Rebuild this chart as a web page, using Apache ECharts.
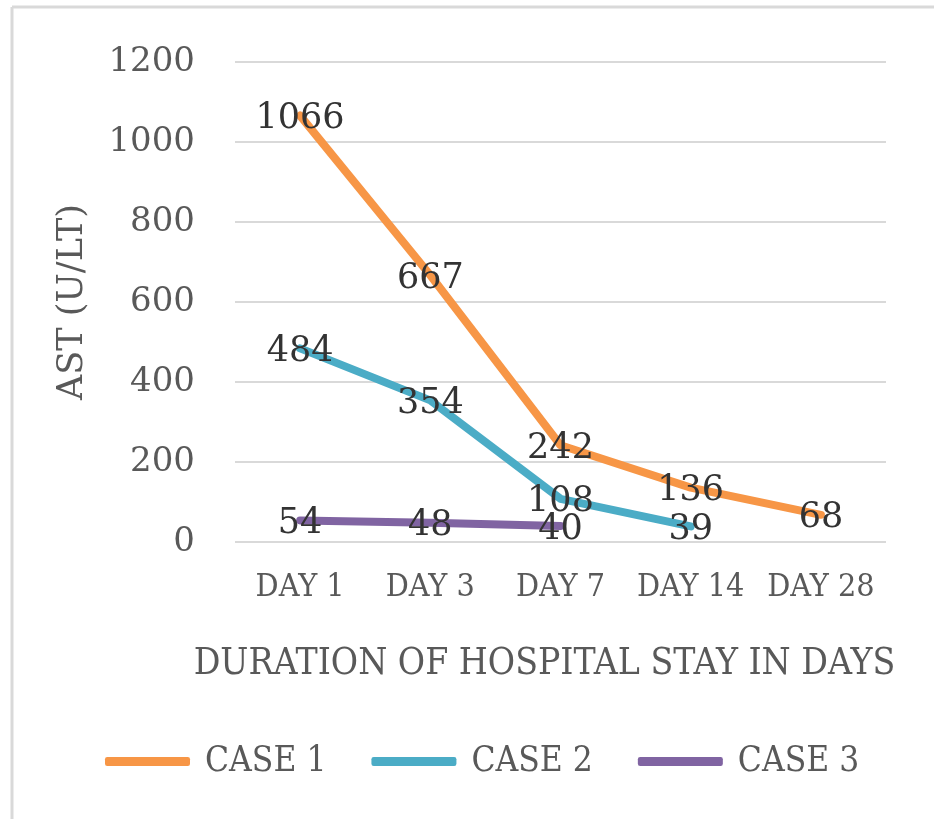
<!DOCTYPE html>
<html>
<head>
<meta charset="utf-8">
<script src="https://cdn.jsdelivr.net/npm/echarts@6/dist/echarts.min.js"></script>
<style>
  html, body { margin: 0; padding: 0; background: #fff; }
  #main { width: 934px; height: 819px; }
</style>
</head>
<body>
<div id="main"></div>
<script>
// data
var days = ['DAY 1', 'DAY 3', 'DAY 7', 'DAY 14', 'DAY 28'];
var case1 = [1066, 667, 242, 136, 68];
var case2 = [484, 354, 108, 39, null];
var case3 = [54, 48, 40, null, null];
var caseNames = ['CASE 1', 'CASE 2', 'CASE 3'];
var colors = ['#f79646', '#4bacc6', '#8064a2'];

var serif = "'DejaVu Serif', 'Liberation Serif', serif";
var narrow = "'DejaVu Serif Condensed', 'DejaVu Serif', serif";

function mkSeries(name, data, color) {
    return {
        name: name,
        type: 'line',
        data: data,
        symbol: 'circle',
        symbolSize: 2,
        showSymbol: true,
        connectNulls: false,
        lineStyle: { width: 8, color: color, cap: 'round', join: 'round' },
        itemStyle: { color: color },
        label: {
            show: true,
            position: 'bottom',
            distance: -15,
            fontFamily: serif,
            fontSize: 35,
            color: '#333'
        },
        labelLayout: { hideOverlap: false }
    };
}

var myChart = echarts.init(document.getElementById('main'));
myChart.setOption({
    backgroundColor: '#fff',
    animation: false,
    graphic: [
        { type: 'line', shape: { x1: 12, y1: 7, x2: 934, y2: 7 }, style: { stroke: '#d9d9d9', lineWidth: 3 } },
        { type: 'line', shape: { x1: 12, y1: 7, x2: 12, y2: 819 }, style: { stroke: '#d9d9d9', lineWidth: 3 } }
    ],
    grid: { left: 235, right: 48, top: 62, bottom: 277, containLabel: false },
    legend: {
        bottom: 40,
        left: 105,
        padding: 0,
        itemWidth: 85,
        itemHeight: 9,
        itemGap: 45,
        icon: 'roundRect',
        textStyle: { fontFamily: narrow, fontSize: 35, color: '#595959', padding: [0, 0, 0, 10] },
        data: caseNames.map(function (n, i) {
            return { name: n, itemStyle: { color: colors[i], opacity: 1 } };
        })
    },
    xAxis: {
        type: 'category',
        data: days,
        boundaryGap: true,
        axisLine: { show: false },
        axisTick: { show: false },
        axisLabel: { interval: 0, fontFamily: narrow, fontSize: 32, color: '#595959', margin: 30 },
        name: 'DURATION OF HOSPITAL STAY IN DAYS',
        nameLocation: 'middle',
        nameGap: 104,
        nameTextStyle: { fontFamily: narrow, fontSize: 37, color: '#595959', padding: [0, 32, 0, 0] }
    },
    yAxis: {
        type: 'value',
        min: 0,
        max: 1200,
        interval: 200,
        axisLine: { show: false },
        axisTick: { show: false },
        splitLine: { lineStyle: { color: '#d9d9d9', width: 2 } },
        axisLabel: {
            fontFamily: serif, fontSize: 34, color: '#595959', margin: 40,
            formatter: function (v) { return String(v); }
        },
        name: 'AST (U/LT)',
        nameLocation: 'middle',
        nameGap: 145,
        nameRotate: 90,
        nameTextStyle: { fontFamily: serif, fontSize: 35, color: '#595959' }
    },
    series: [
        mkSeries(caseNames[0], case1, colors[0]),
        mkSeries(caseNames[1], case2, colors[1]),
        mkSeries(caseNames[2], case3, colors[2])
    ]
});
</script>
</body>
</html>
